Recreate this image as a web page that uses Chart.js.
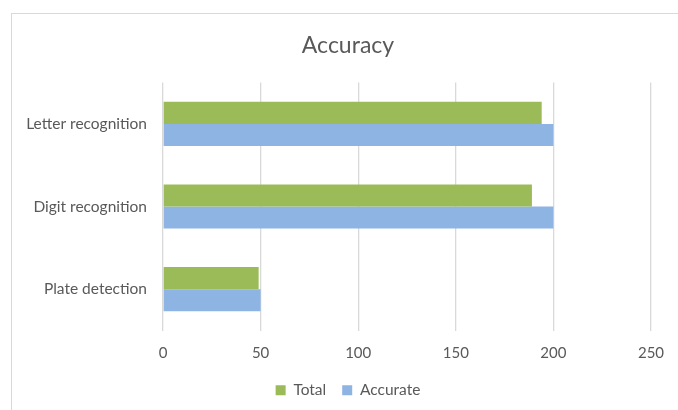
<!DOCTYPE html>
<html>
<head>
<meta charset="utf-8">
<script src="https://cdn.jsdelivr.net/npm/chart.js@4"></script>
<style>
  html, body { margin: 0; padding: 0; background: #fff; overflow: hidden; }
  #wrap { position: relative; width: 678px; height: 410px; overflow: hidden; }
  #frame {
    position: absolute; left: 11px; top: 13px; width: 700px; height: 420px;
    border: 1px solid #d9d9d9; box-sizing: border-box;
  }
  #chart { position: absolute; left: 0; top: 0; }
</style>
</head>
<body>
<div id="wrap">
  <div id="frame"></div>
  <canvas id="chart" width="696" height="410"></canvas>
</div>
<script>
// ===== data =====
const categories = ['Letter recognition', 'Digit recognition', 'Plate detection'];
const totalValues = [194, 189, 49];
const accurateValues = [200, 200, 50];
const xTicks = [0, 50, 100, 150, 200, 250];

const textColor = '#595959';
const gridColor = '#d9d9d9';
const fontFamily = 'Lato, "Open Sans", sans-serif';

Chart.defaults.font.family = fontFamily;
Chart.defaults.color = textColor;

new Chart(document.getElementById('chart'), {
    type: 'bar',
    data: {
        labels: categories,
        datasets: [
            {
                label: 'Total',
                data: totalValues,
                backgroundColor: '#9bbb59',
                categoryPercentage: 0.534,
                barPercentage: 1
            },
            {
                label: 'Accurate',
                data: accurateValues,
                backgroundColor: '#8eb4e3',
                categoryPercentage: 0.534,
                barPercentage: 1
            }
        ]
    },
    options: {
        indexAxis: 'y',
        responsive: false,
        animation: false,
        layout: {
            padding: { left: 0, right: 0, top: 0, bottom: 2 }
        },
        plugins: {
            title: {
                display: true,
                text: 'Accuracy',
                color: textColor,
                font: { size: 23, weight: 'normal' },
                padding: { top: 32, bottom: 23 }
            },
            legend: {
                position: 'bottom',
                labels: {
                    color: textColor,
                    boxWidth: 10,
                    boxHeight: 10,
                    padding: 16,
                    font: { size: 15.5 }
                }
            },
            tooltip: { enabled: false }
        },
        scales: {
            x: {
                min: 0,
                max: 250,
                afterBuildTicks(scale) {
                    scale.ticks = xTicks.map(v => ({ value: v }));
                },
                afterFit(scale) {
                    scale.height = 36;
                },
                grid: { color: gridColor, lineWidth: 1.3, drawTicks: false },
                border: { display: false },
                ticks: { color: textColor, padding: 14, font: { size: 15 } }
            },
            y: {
                afterFit(scale) {
                    scale.width = 163;
                },
                grid: { display: false, drawTicks: false },
                border: { display: false },
                ticks: { color: textColor, padding: 16, font: { size: 15.5 } }
            },
            // empty right-hand spacer so title and legend sit centred like the reference
            spacer: {
                axis: 'y',
                type: 'category',
                position: 'right',
                afterFit(scale) {
                    scale.width = 45;
                },
                grid: { display: false, drawTicks: false },
                border: { display: false },
                ticks: { display: false }
            }
        }
    }
});
</script>
</body>
</html>
